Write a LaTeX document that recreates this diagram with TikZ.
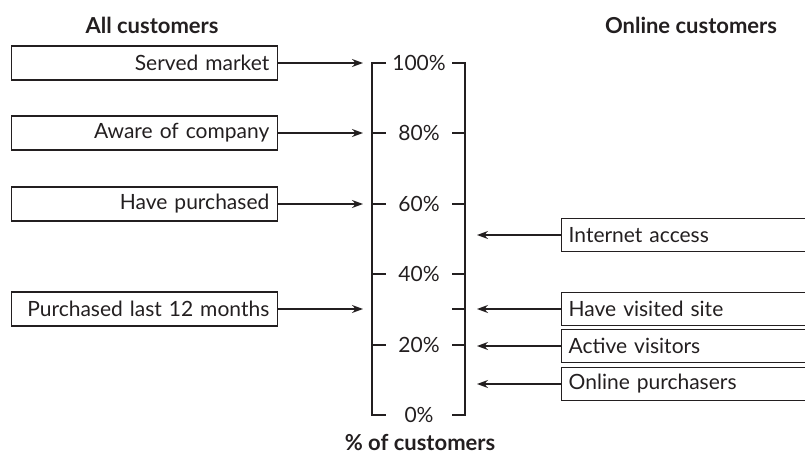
\documentclass[tikz,border=0pt]{standalone}
\usepackage{fontspec}
\setmainfont{Lato}
\usetikzlibrary{arrows.meta}
\definecolor{ink}{HTML}{231F20}
\begin{document}
\begin{tikzpicture}[x=1pt,y=-1pt,
  every node/.style={text=ink, font=\fontsize{21}{23}\selectfont},
  lbox/.style={draw=ink, line width=1.4pt, minimum height=34pt, text width=250pt, inner xsep=8pt, inner ysep=0pt, align=right, anchor=east},
  rbox/.style={draw=ink, line width=1.4pt, minimum height=33pt, text width=300pt, inner xsep=7pt, inner ysep=0pt, align=left, anchor=west},
  arr/.style={draw=ink, line width=1.3pt, -{Stealth[length=11pt,width=8pt]}},
  axisline/.style={draw=ink, line width=1.4pt},
  title/.style={font=\fontsize{22}{24}\selectfont\bfseries},
  pct/.style={anchor=center}
]
\useasboundingbox (0,0) rectangle (805,457);
\clip (0,0) rectangle (805,457);

% titles
\node[title] (tall) at (152,25) {All customers};
\node[title] (tonl) at (691,25) {Online customers};
\node[title] (tpct) at (420,443) {\% of customers};

% left boxes
\node[lbox] (sm) at (278,63) {Served market};
\node[lbox] (ac) at (278,133) {Aware of company};
\node[lbox] (hp) at (278,204) {Have purchased};
\node[lbox] (pl) at (278,309) {Purchased last 12 months};

% right boxes
\node[rbox] (ia) at (561,235) {Internet access};
\node[rbox] (hv) at (561,309) {Have visited site};
\node[rbox] (av) at (561,346) {Active visitors};
\node[rbox] (op) at (561,384) {Online purchasers};

% axis coordinates
\coordinate (Ltop) at (372,63);
\coordinate (Lbot) at (372,415);
\coordinate (Rtop) at (465,63);
\coordinate (Rbot) at (465,415);

% percent labels
\node[pct] (p100) at (419,63) {100\%};
\node[pct] (p80) at (419,133) {80\%};
\node[pct] (p60) at (419,204) {60\%};
\node[pct] (p40) at (419,274) {40\%};
\node[pct] (p20) at (419,345) {20\%};
\node[pct] (p0) at (419,415) {0\%};

% bracket axis
\draw[axisline] (386,63) -- (Ltop) -- (Lbot) -- (386,415);
\draw[axisline] (452,63) -- (Rtop) -- (Rbot) -- (452,415);
\foreach \y in {133,204,274,345}{
  \draw[axisline] (372,\y) -- (386,\y);
  \draw[axisline] (452,\y) -- (465,\y);
}
\draw[axisline] (452,309) -- (465,309);

% arrow targets
\coordinate (tsm) at (363,63);
\coordinate (tac) at (363,133);
\coordinate (thp) at (363,204);
\coordinate (tpl) at (363,309);
\coordinate (tia) at (477,235);
\coordinate (thv) at (477,309);
\coordinate (tav) at (477,346);
\coordinate (top) at (477,384);

\draw[arr] (sm.east) -- (tsm);
\draw[arr] (ac.east) -- (tac);
\draw[arr] (hp.east) -- (thp);
\draw[arr] (pl.east) -- (tpl);
\draw[arr] (ia.west) -- (tia);
\draw[arr] (hv.west) -- (thv);
\draw[arr] (av.west) -- (tav);
\draw[arr] (op.west) -- (top);
\end{tikzpicture}
\end{document}
